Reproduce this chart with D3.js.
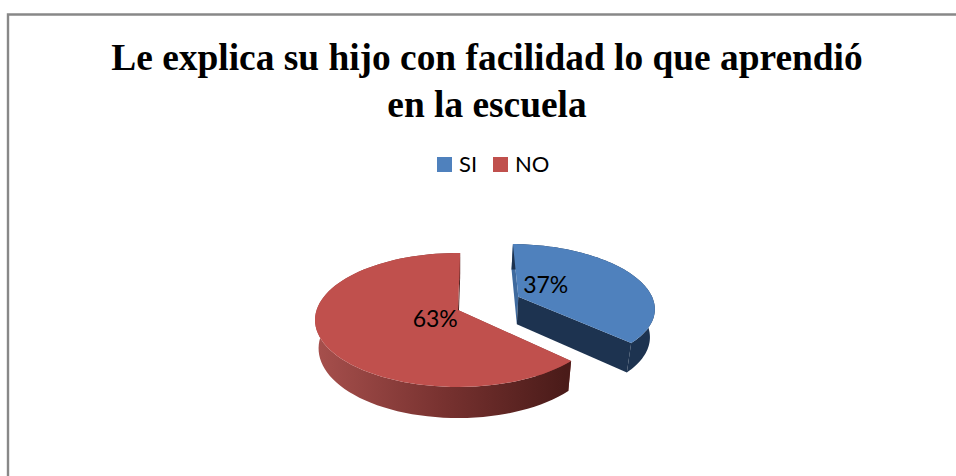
<!DOCTYPE html>
<html lang="en">
<head>
<meta charset="utf-8">
<title>Le explica su hijo</title>
<script src="https://d3js.org/d3.v7.min.js"></script>
<style>
    html, body { margin: 0; padding: 0; background: #fff; }
    svg { display: block; }
    .title { font-family: "Liberation Serif", serif; font-weight: 700; font-size: 37.4px; fill: #000; }
    .legend text { font-family: Lato, "Open Sans", sans-serif; font-size: 22px; fill: #000; }
    .lbl { font-family: Lato, "Open Sans", sans-serif; font-size: 23px; fill: #000; }
</style>
</head>
<body>
<div id="divChart"></div>
<script>
const categories = ["SI", "NO"];
const values = [37, 63];
const titleLines = ["Le explica su hijo con facilidad lo que aprendió", "en la escuela"];

const width = 956, height = 476;
const color = d3.scaleOrdinal().domain(categories).range(["#4f81bd", "#c0504d"]);
const sideColor = d3.scaleOrdinal().domain(categories).range(["#1d3350", "url(#redSide)"]);
const faceColor = d3.scaleOrdinal().domain(categories).range(["#3f6a9e", "#8a3a38"]);

const svg = d3.select("#divChart").append("svg").attr("width", width).attr("height", height);

// chart frame, the picture is cropped on the right and at the bottom
svg.append("path")
    .attr("d", "M8,476V14.5H956")
    .attr("fill", "none")
    .attr("stroke", "#888888")
    .attr("stroke-width", 2.4);

svg.selectAll(".title").data(titleLines).join("text")
    .attr("class", "title")
    .attr("x", 487)
    .attr("y", (d, i) => 70 + i * 47)
    .attr("text-anchor", "middle")
    .text(d => d);

const grad = svg.append("defs").append("linearGradient")
    .attr("id", "redSide")
    .attr("gradientUnits", "userSpaceOnUse")
    .attr("x1", 318).attr("x2", 566).attr("y1", 0).attr("y2", 0);
grad.append("stop").attr("offset", 0).attr("stop-color", "#a64f4c");
grad.append("stop").attr("offset", 0.5).attr("stop-color", "#783230");
grad.append("stop").attr("offset", 1).attr("stop-color", "#4a1b19");

// perspective of the tilted pie
const cx = 458, cy = 310, rx = 141.4, ry = 65.5, persp = 0.149;
function project(px, py, bottom) {
    const w = 1 - persp * py;
    const x = rx * px / w, y = ry * py / w;
    return bottom ? [cx + x * 0.975, cy + y * 1.04 + 28] : [cx + x, cy + y];
}

const rotation = 1 * Math.PI / 180;
const pie = d3.pie().sort(null).startAngle(rotation).endAngle(2 * Math.PI + rotation);
const slices = pie(values).map((d, i) => {
    const mid = (d.startAngle + d.endAngle) / 2;
    return {
        name: categories[i],
        value: d.value,
        start: d.startAngle,
        end: d.endAngle,
        mid: mid,
        radius: i === 0 ? 0.975 : 1,
        ox: i === 0 ? 0.44 : 0,
        oy: i === 0 ? -0.21 : 0
    };
});

const line = d3.line();
function rim(s, bottom) {
    const n = 80;
    return d3.range(n + 1).map(k => {
        const a = s.start + (s.end - s.start) * k / n;
        return project(s.ox + s.radius * Math.sin(a), s.oy - s.radius * Math.cos(a), bottom);
    });
}
function apex(s, bottom) { return project(s.ox, s.oy, bottom); }

const pieG = svg.append("g");
// red goes first so that the exploded blue slice sits over it
[slices[1], slices[0]].forEach(s => {
    const top = rim(s, false), bot = rim(s, true);
    pieG.append("path")
        .attr("d", line([apex(s, false), top[0], bot[0], apex(s, true)]) + "Z")
        .attr("fill", faceColor(s.name));
    pieG.append("path")
        .attr("d", line([apex(s, false), top[top.length - 1], bot[bot.length - 1], apex(s, true)]) + "Z")
        .attr("fill", sideColor(s.name) === "url(#redSide)" ? "#4a1b19" : sideColor(s.name));
    pieG.append("path")
        .attr("d", line(top.concat(bot.slice().reverse())) + "Z")
        .attr("fill", sideColor(s.name));
    pieG.append("path")
        .attr("d", line([apex(s, false)].concat(top)) + "Z")
        .attr("fill", color(s.name));
});

slices.forEach(s => {
    const p = project(s.ox + 0.2 * Math.sin(s.mid), s.oy - 0.42 * Math.cos(s.mid), false);
    svg.append("text")
        .attr("class", "lbl")
        .attr("x", p[0] + 4)
        .attr("y", p[1] + 6)
        .attr("text-anchor", "middle")
        .text(s.value + "%");
});

// legend
const legendX = d3.scalePoint().domain(categories).range([437, 493]);
const legend = svg.append("g").attr("class", "legend");
categories.forEach(c => {
    legend.append("rect")
        .attr("x", legendX(c)).attr("y", 157)
        .attr("width", 15).attr("height", 15)
        .attr("fill", color(c));
    legend.append("text")
        .attr("x", legendX(c) + 22).attr("y", 172)
        .text(c);
});
</script>
</body>
</html>
